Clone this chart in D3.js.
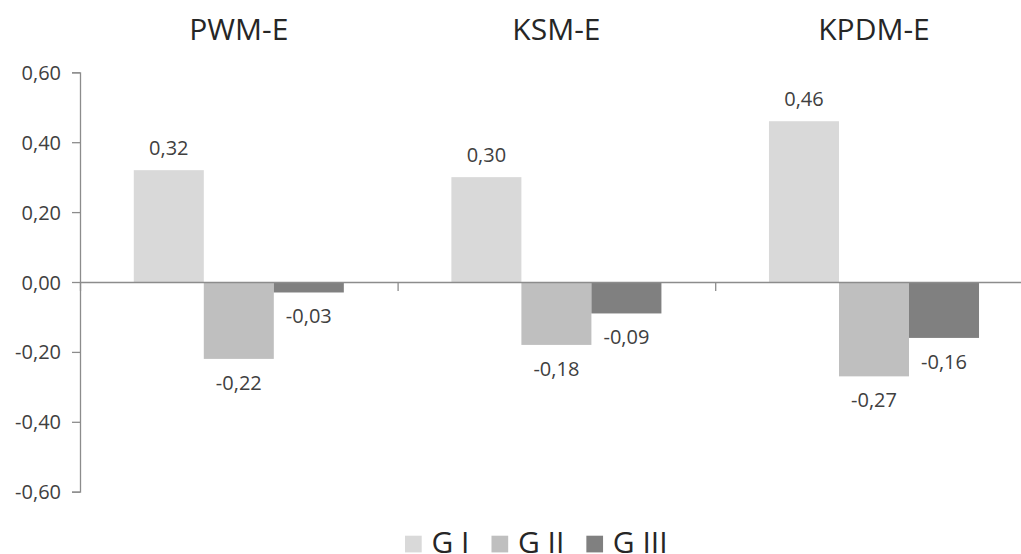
<!DOCTYPE html>
<html>
<head>
<meta charset="utf-8">
<script src="https://cdn.jsdelivr.net/npm/d3@7"></script>
<style>
  html, body { margin: 0; padding: 0; background: #ffffff; }
  svg { display: block; }
  text { font-family: "Open Sans", "Liberation Sans", sans-serif; }
</style>
</head>
<body>
<svg id="chart" width="1021" height="554"></svg>
<script>
// ---- data ----
const categories = ["PWM-E", "KSM-E", "KPDM-E"];
const seriesNames = ["G I", "G II", "G III"];
const gI   = [0.32, 0.30, 0.46];
const gII  = [-0.22, -0.18, -0.27];
const gIII = [-0.03, -0.09, -0.16];
const yTicks = [-0.60, -0.40, -0.20, 0.00, 0.20, 0.40, 0.60];
const seriesColors = ["#d9d9d9", "#bfbfbf", "#808080"];

const seriesValues = [gI, gII, gIII];
const rows = categories.map((c, i) => ({
  cat: c,
  vals: seriesNames.map((s, j) => ({ series: s, idx: j, value: seriesValues[j][i] }))
}));

const svg = d3.select("#chart");
const locale = d3.formatLocale({ decimal: ",", thousands: ".", grouping: [3], currency: ["", ""], minus: "-" });
const fmt = locale.format(".2f");

const plotLeft = 80;
const catStep = 317.6;
const x0 = d3.scaleBand().domain(categories).range([plotLeft, plotLeft + catStep * categories.length]).padding(0);
const x1 = d3.scaleBand().domain(seriesNames).range([0, x0.bandwidth()]).paddingInner(0).paddingOuter(0.768);
const y = d3.scaleLinear().domain([-0.6, 0.6]).range([491.7, 72.3]);

// y axis
const yAxis = d3.axisLeft(y).tickValues(yTicks).tickSize(8).tickPadding(11).tickFormat(fmt);
const gy = svg.append("g").attr("transform", `translate(${plotLeft},0)`).call(yAxis);
gy.select(".domain").attr("stroke", "#8c8c8c").attr("stroke-width", 1.3);
gy.selectAll(".tick line").attr("stroke", "#8c8c8c").attr("stroke-width", 1.3);
gy.selectAll(".tick text").attr("fill", "#404040").style("font-size", "20px").attr("dy", "0.35em");

// bars
const groups = svg.append("g").selectAll("g").data(rows).join("g")
  .attr("transform", d => `translate(${x0(d.cat)},0)`);

groups.selectAll("rect").data(d => d.vals).join("rect")
  .attr("x", d => x1(d.series))
  .attr("width", x1.bandwidth())
  .attr("y", d => y(Math.max(0, d.value)))
  .attr("height", d => Math.abs(y(d.value) - y(0)))
  .attr("fill", d => seriesColors[d.idx]);

// data labels
groups.selectAll("text.lbl").data(d => d.vals).join("text")
  .attr("class", "lbl")
  .attr("x", d => x1(d.series) + x1.bandwidth() / 2)
  .attr("y", d => d.value >= 0 ? y(d.value) - 15 : y(d.value) + 31)
  .attr("text-anchor", "middle")
  .attr("fill", "#404040")
  .style("font-size", "20px")
  .text(d => fmt(d.value));

// x axis at zero
const boundaries = categories.map(c => x0(c)).concat([x0(categories[categories.length - 1]) + x0.bandwidth()]);
const xb = d3.scaleLinear().domain([plotLeft, plotLeft + catStep * 3]).range([plotLeft, plotLeft + catStep * 3]);
const xAxis = d3.axisBottom(xb).tickValues(boundaries).tickSize(9).tickSizeOuter(0).tickFormat("");
const gx = svg.append("g").attr("transform", `translate(0,${y(0)})`).call(xAxis);
gx.select(".domain").attr("stroke", "#8c8c8c").attr("stroke-width", 1.3);
gx.selectAll(".tick line").attr("stroke", "#8c8c8c").attr("stroke-width", 1.3);

// category labels at top
svg.append("g").selectAll("text").data(categories).join("text")
  .attr("x", d => x0(d) + x0.bandwidth() / 2)
  .attr("y", 40)
  .attr("text-anchor", "middle")
  .attr("fill", "#262626")
  .style("font-size", "30px")
  .text(d => d);

// legend
const legend = svg.append("g");
let lx = 405;
seriesNames.forEach((s, i) => {
  legend.append("rect").attr("x", lx).attr("y", 535.7).attr("width", 16.7).attr("height", 16.7).attr("fill", seriesColors[i]);
  const t = legend.append("text").attr("x", lx + 26.5).attr("y", 553).attr("fill", "#262626")
    .style("font-size", "30px").text(s);
  const w = t.node().getComputedTextLength();
  lx = lx + 26.5 + w + 22;
});
</script>
</body>
</html>
